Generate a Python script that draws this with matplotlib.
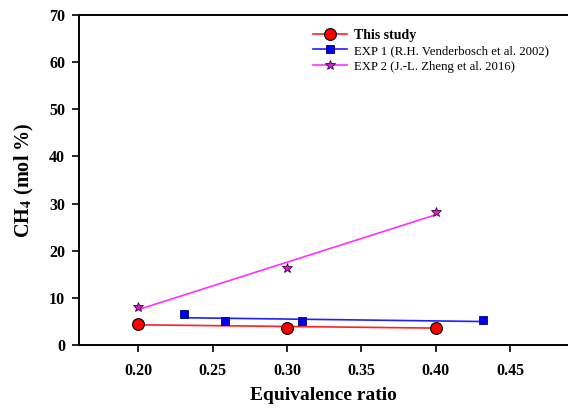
import numpy as np
import matplotlib
matplotlib.use("Agg")
import matplotlib.pyplot as plt
from matplotlib.lines import Line2D

plt.rcParams['font.family'] = ['Liberation Serif', 'DejaVu Serif']
plt.rcParams['mathtext.fontset'] = 'stix'

# data
er_study = [0.20, 0.30, 0.40]
ch4_study = [4.4, 3.7, 3.7]

er_exp1 = [0.231, 0.258, 0.310, 0.432]
ch4_exp1 = [6.5, 5.1, 5.1, 5.2]

er_exp2 = [0.20, 0.30, 0.40]
ch4_exp2 = [8.1, 16.4, 28.2]

labels = ['This study', 'EXP 1 (R.H. Venderbosch et al. 2002)',
          'EXP 2 (J.-L. Zheng et al. 2016)']

fig = plt.figure(figsize=(5.68, 4.08), dpi=100)
ax = fig.add_axes([0.139, 0.1544, 0.861, 0.8088])

series = [
    (er_study, ch4_study, '#ff2020', dict(marker='o', ms=8.5, mfc='red', mec='black', mew=0.8)),
    (er_exp1, ch4_exp1, '#2020ff', dict(marker='s', ms=5.5, mfc='#0000ee', mec='#000080', mew=0.6)),
    (er_exp2, ch4_exp2, '#ff30ff', dict(marker='*', ms=7, mfc='#cc22cc', mec='#400040', mew=0.6)),
]

handles = []
for x, y, col, mk in series:
    # linear regression line over the data range
    k, b = np.polyfit(x, y, 1)
    xs = np.array([min(x), max(x)])
    ax.plot(xs, k * xs + b, color=col, lw=1.2, zorder=2)
    ax.plot(x, y, ls='none', zorder=3, **mk)
    handles.append(Line2D([], [], color=col, lw=1.2, **mk))

leg = ax.legend(handles, labels, loc='upper left', bbox_to_anchor=(0.4785, 0.959),
                frameon=False, fontsize=10, handlelength=2.45, handletextpad=0.5,
                labelspacing=0.2, borderaxespad=0, borderpad=0)
leg.get_texts()[0].set_fontweight('bold')
for t in leg.get_texts()[1:]:
    t.set_fontsize(9.2)

ax.set_xlim(0.16, 0.489)
ax.set_ylim(0, 70)
ax.set_xticks([0.20, 0.25, 0.30, 0.35, 0.40, 0.45])
ax.set_xticklabels(['0.20', '0.25', '0.30', '0.35', '0.40', '0.45'])
ax.set_yticks(range(0, 71, 10))
for lab in ax.get_xticklabels() + ax.get_yticklabels():
    lab.set_fontweight('bold')
ax.tick_params(direction='out', length=5, width=1.2, labelsize=11.5, pad=5)
ax.tick_params(axis='x', pad=8)
ax.spines['right'].set_visible(False)
for s in ax.spines.values():
    s.set_linewidth(1.4)

ax.set_xlabel('Equivalence ratio', fontsize=14, fontweight='bold', labelpad=6)
ax.set_ylabel(r'CH$_{\mathbf{4}}$ (mol %)', fontsize=14.5, fontweight='bold', labelpad=9)

fig.savefig('out.png', dpi=100)
